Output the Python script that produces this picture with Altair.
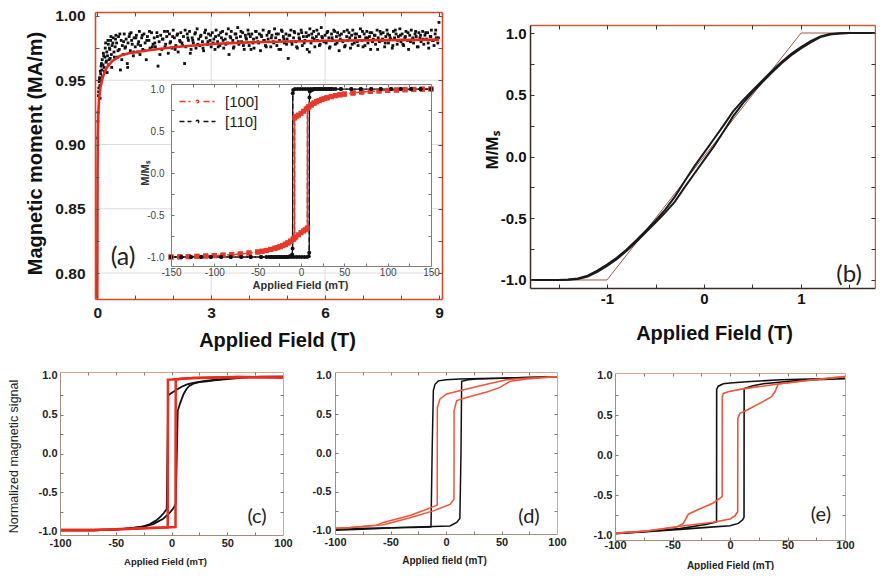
import altair as alt
import pandas as pd

# ---------------- data ----------------
# (a) measured magnetic moment (MA/m) vs applied field (T): scatter + fit
a_x = [0.01,0.02,0.03,0.04,0.05,0.06,0.07,0.08,0.09,0.10,0.12,0.13,0.15,0.16,0.18,0.20,0.21,0.23,0.25,0.27,
       0.29,0.31,0.33,0.35,0.37,0.39,0.42,0.44,0.47,0.49,
       0.51,0.53,0.56,0.58,0.61,0.63,0.66,0.68,0.71,0.73,0.76,0.79,0.81,0.84,0.87,0.89,0.92,0.95,0.97,1.00,
       1.03,1.06,1.09,1.11,1.14,1.17,1.20,1.23,1.26,1.29,1.32,1.36,1.39,1.43,1.47,
       1.50,1.53,1.57,1.60,1.63,1.67,1.70,1.73,1.77,1.80,1.83,1.87,1.90,1.93,1.97,2.00,2.03,2.07,2.10,2.13,
       2.17,2.20,2.23,2.27,2.30,2.33,2.37,2.40,2.43,2.47,2.50,2.53,2.57,2.60,2.63,2.67,2.70,2.73,2.77,2.80,
       2.83,2.87,2.90,2.93,2.97,
       3.00,3.03,3.07,3.10,3.13,3.17,3.20,3.23,3.27,3.30,3.33,3.37,3.40,3.43,3.47,3.50,3.53,3.57,3.60,3.63,
       3.67,3.70,3.73,3.77,3.80,3.83,3.87,3.90,3.93,3.97,4.00,4.03,4.07,4.10,4.13,4.17,4.20,4.23,4.27,4.30,
       4.33,4.37,4.40,4.43,4.47,
       4.50,4.53,4.57,4.60,4.63,4.67,4.70,4.73,4.77,4.80,4.83,4.87,4.90,4.93,4.97,5.00,5.03,5.07,5.10,5.13,
       5.17,5.20,5.23,5.27,5.30,5.33,5.37,5.40,5.43,5.47,5.50,5.53,5.57,5.60,5.63,5.67,5.70,5.73,5.77,5.80,
       5.83,5.87,5.90,5.93,5.97,
       6.00,6.03,6.07,6.10,6.13,6.17,6.20,6.23,6.27,6.30,6.33,6.37,6.40,6.43,6.47,6.50,6.53,6.57,6.60,6.63,
       6.67,6.70,6.73,6.77,6.80,6.83,6.87,6.90,6.93,6.97,7.00,7.03,7.07,7.10,7.13,7.17,7.20,7.23,7.27,7.30,
       7.33,7.37,7.40,7.43,7.47,
       7.50,7.53,7.57,7.60,7.63,7.67,7.70,7.73,7.77,7.80,7.83,7.87,7.90,7.93,7.97,8.00,8.03,8.07,8.10,8.13,
       8.17,8.20,8.23,8.27,8.30,8.33,8.37,8.40,8.43,8.47,8.50,8.53,8.57,8.60,8.63,8.67,8.70,8.73,8.77,8.80,
       8.83,8.87,8.90,8.93,8.97,9.00]
a_y = [0.905,0.925,0.938,0.944,0.949,0.952,0.946,0.957,0.955,0.961,0.958,0.966,0.962,0.971,0.960,0.968,0.975,0.964,0.972,0.969,
       0.978,0.966,0.974,0.981,0.970,0.977,0.983,0.972,0.976,0.985,
       0.979,0.968,0.984,0.974,0.958,0.981,0.977,0.970,0.986,0.975,0.982,0.963,0.979,0.984,0.973,0.987,0.978,0.969,0.983,0.976,
       0.985,0.972,0.980,0.988,0.977,0.983,0.974,0.986,0.979,0.966,0.984,0.981,0.975,0.987,0.978,
       0.983,0.976,0.987,0.961,0.980,0.985,0.974,0.982,0.988,0.978,0.984,0.971,0.986,0.980,0.975,0.989,0.983,0.977,0.985,0.972,
       0.981,0.987,0.979,0.984,0.963,0.976,0.986,0.981,0.988,0.974,0.983,0.979,0.986,0.975,0.990,0.982,0.977,0.985,0.980,0.973,
       0.987,0.983,0.978,0.986,0.981,
       0.976,0.987,0.982,0.974,0.989,0.980,0.985,0.977,0.983,0.988,0.975,0.982,0.986,0.979,0.970,0.984,0.988,0.981,0.976,0.986,
       0.983,0.991,0.978,0.984,0.980,0.987,0.974,0.985,0.982,0.989,0.977,0.984,0.986,0.979,0.975,0.988,0.983,0.980,0.986,0.973,
       0.984,0.989,0.981,0.977,0.985,
       0.982,0.988,0.976,0.985,0.980,0.990,0.983,0.977,0.986,0.981,0.974,0.988,0.984,0.979,0.986,0.982,0.967,0.985,0.989,0.978,
       0.983,0.987,0.980,0.975,0.986,0.982,0.989,0.977,0.984,0.981,0.987,0.974,0.985,0.990,0.979,0.983,0.988,0.976,0.984,0.981,
       0.986,0.978,0.991,0.983,0.980,
       0.985,0.979,0.988,0.983,0.976,0.986,0.981,0.989,0.978,0.984,0.987,0.973,0.982,0.986,0.980,0.988,0.977,0.984,0.981,0.987,
       0.975,0.985,0.989,0.979,0.983,0.986,0.977,0.984,0.990,0.981,0.976,0.986,0.983,0.988,0.979,0.984,0.974,0.987,0.982,0.985,
       0.978,0.989,0.983,0.980,0.986,
       0.981,0.987,0.976,0.984,0.989,0.979,0.985,0.982,0.975,0.988,0.983,0.986,0.978,0.984,0.990,0.980,0.986,0.977,0.983,0.988,
       0.981,0.974,0.985,0.989,0.982,0.979,0.986,0.984,0.976,0.987,0.983,0.980,0.988,0.978,0.985,0.982,0.987,0.975,0.984,0.989,
       0.981,0.977,0.986,0.983,0.979,0.995]
a_x2 = [0.015,0.035,0.055,0.075,0.11,0.14,0.17,0.19,0.22,0.24,0.26,0.28,0.30,0.32,0.34,0.36,0.38,0.41,0.45,0.48,
        0.545,0.595,0.645,0.695,0.745,0.80,0.855,0.905,0.96,1.015,1.075,1.125,1.185,1.245,1.305,1.375,1.45,1.515,1.585,1.65,
        1.715,1.785,1.85,1.915,1.985,2.05,2.115,2.185,2.25,2.315,2.385,2.45,2.515,2.585,2.65,2.715,2.785,2.85,2.915,2.985,
        3.05,3.115,3.185,3.25,3.315,3.385,3.45,3.515,3.585,3.65,3.715,3.785,3.85,3.915,3.985,4.05,4.115,4.185,4.25,4.315,
        4.385,4.45,4.515,4.585,4.65,4.715,4.785,4.85,4.915,4.985,5.05,5.115,5.185,5.25,5.315,5.385,5.45,5.515,5.585,5.65,
        5.715,5.785,5.85,5.915,5.985,6.05,6.115,6.185,6.25,6.315,6.385,6.45,6.515,6.585,6.65,6.715,6.785,6.85,6.915,6.985,
        7.05,7.115,7.185,7.25,7.315,7.385,7.45,7.515,7.585,7.65,7.715,7.785,7.85,7.915,7.985,8.05,8.115,8.185,8.25,8.315,
        8.385,8.45,8.515,8.585,8.65,8.715,8.785,8.85,8.915,8.985]
a_y2 = [0.918,0.941,0.950,0.936,0.963,0.953,0.969,0.957,0.979,0.965,0.956,0.981,0.962,0.975,0.967,0.984,0.960,0.979,0.968,0.982,
        0.973,0.986,0.966,0.980,0.976,0.960,0.986,0.981,0.972,0.983,0.978,0.970,0.985,0.973,0.981,0.988,0.976,0.979,0.984,0.970,
        0.982,0.976,0.988,0.979,0.984,0.974,0.986,0.980,0.977,0.989,0.983,0.971,0.981,0.987,0.978,0.984,0.975,0.989,0.980,0.985,
        0.979,0.984,0.976,0.987,0.981,0.978,0.990,0.983,0.975,0.986,0.980,0.988,0.977,0.983,0.986,0.974,0.982,0.988,0.979,0.985,
        0.981,0.976,0.987,0.983,0.979,0.986,0.974,0.989,0.982,0.978,0.985,0.980,0.988,0.976,0.983,0.987,0.979,0.984,0.972,0.986,
        0.982,0.989,0.977,0.984,0.980,0.987,0.975,0.983,0.988,0.979,0.985,0.981,0.976,0.989,0.983,0.978,0.986,0.980,0.984,0.988,
        0.977,0.983,0.987,0.980,0.985,0.974,0.988,0.982,0.979,0.986,0.983,0.977,0.989,0.981,0.985,0.978,0.984,0.987,0.980,0.983,
        0.988,0.976,0.985,0.982,0.987,0.979,0.984,0.981,0.989,0.983]
a_fit = [[0.0,0.7802],[0.004,0.84],[0.008,0.88],[0.014,0.905],[0.025,0.922],[0.045,0.935],[0.08,0.944],
         [0.15,0.953],[0.25,0.96],[0.4,0.965],[0.6,0.969],[0.8,0.9708],[1.0,0.9718],[1.4,0.9735],
         [2.0,0.9757],[3.0,0.9782],[4.0,0.9795],[5.0,0.9802],[6.0,0.9807],[7.5,0.9812],[9.0,0.9816]]
a_grid_x = [3, 6]
a_grid_y = [0.80, 0.85, 0.90, 0.95]

# inset of (a): M/Ms vs field (mT)
ins110_dn = [[150,1],[138,1],[127,1],[115,1],[104,1],[92,1],[81,1],[69,1],[58,1],[46,1],[40,1],[35,1],[32,1],
             [29,1],[26,1],[23,1],[20,1],[17,1],[14,1],[11,1],[8,1],[5,1],[2,1],[-1,1],[-4,1],[-7,1],[-9,0.99],
             [-9.5,0.95],[-9.7,-0.9],[-10.2,-0.97],[-13,-0.99],[-16,-1],[-19,-1],[-22,-1],[-25,-1],[-28,-1],
             [-31,-1],[-34,-1],[-37,-1],[-46,-1],[-58,-1],[-69,-1],[-81,-1],[-92,-1],[-104,-1],[-115,-1],
             [-127,-1],[-138,-1],[-150,-1]]
ins110_up = [[-150,-1],[-138,-1],[-127,-1],[-115,-1],[-104,-1],[-92,-1],[-81,-1],[-69,-1],[-58,-1],[-46,-1],
             [-40,-1],[-35,-1],[-32,-1],[-29,-1],[-26,-1],[-23,-1],[-20,-1],[-17,-1],[-14,-1],[-11,-1],[-8,-1],
             [-5,-1],[-2,-1],[1,-1],[4,-1],[7,-1],[9,-0.99],[9.5,-0.95],[9.7,0.9],[10.2,0.97],[13,0.99],[16,1],
             [19,1],[22,1],[25,1],[28,1],[31,1],[34,1],[37,1],[46,1],[58,1],[69,1],[81,1],[92,1],[104,1],
             [115,1],[127,1],[138,1],[150,1]]
ins100_dn = [[150,1.0],[140,0.998],[130,0.995],[120,0.992],[110,0.988],[100,0.983],[90,0.978],[80,0.972],
             [70,0.964],[60,0.953],[50,0.94],[45,0.932],[40,0.922],[35,0.91],[30,0.896],[27,0.887],[24,0.876],
             [21,0.863],[18,0.849],[15,0.832],[12,0.812],[9,0.788],[6,0.762],[3,0.736],[0,0.71],[-3,0.69],
             [-5,0.675],[-7.2,0.655],[-7.4,-0.772],[-9,-0.788],[-12,-0.812],[-15,-0.832],[-18,-0.849],
             [-21,-0.863],[-24,-0.876],[-27,-0.887],[-30,-0.896],[-35,-0.91],[-40,-0.922],[-45,-0.932],
             [-50,-0.94],[-60,-0.953],[-70,-0.964],[-80,-0.972],[-90,-0.978],[-100,-0.983],[-110,-0.988],
             [-120,-0.992],[-130,-0.995],[-140,-0.998],[-150,-1.0]]
ins100_up = [[-150,-1.0],[-140,-0.998],[-130,-0.995],[-120,-0.992],[-110,-0.988],[-100,-0.983],[-90,-0.978],
             [-80,-0.972],[-70,-0.964],[-60,-0.953],[-50,-0.94],[-45,-0.932],[-40,-0.922],[-35,-0.91],
             [-30,-0.896],[-27,-0.887],[-24,-0.876],[-21,-0.863],[-18,-0.849],[-15,-0.832],[-12,-0.812],
             [-9,-0.788],[-6,-0.762],[-3,-0.736],[0,-0.71],[3,-0.69],[5,-0.675],[7.2,-0.655],[7.4,0.772],
             [9,0.788],[12,0.812],[15,0.832],[18,0.849],[21,0.863],[24,0.876],[27,0.887],[30,0.896],[35,0.91],
             [40,0.922],[45,0.932],[50,0.94],[60,0.953],[70,0.964],[80,0.972],[90,0.978],[100,0.983],
             [110,0.988],[120,0.992],[130,0.995],[140,0.998],[150,1.0]]
ins_series = ["[100]", "[110]"]

# (b) M/Ms vs field (T)
b_x = [1.76,1.5,1.4,1.3,1.2,1.1,1.0,0.9,0.8,0.7,0.6,0.5,0.4,0.3,0.2,0.1,0.0,-0.1,-0.2,-0.3,-0.4,-0.5,
       -0.6,-0.7,-0.8,-0.9,-1.0,-1.1,-1.2,-1.3,-1.4,-1.5,-1.78]
b_dn = [1.0,1.0,0.999,0.992,0.973,0.935,0.886,0.831,0.766,0.692,0.613,0.535,0.455,0.365,0.25,0.14,0.03,
        -0.08,-0.20,-0.325,-0.43,-0.52,-0.60,-0.68,-0.755,-0.82,-0.875,-0.925,-0.965,-0.988,-0.997,-1.0,-1.0]
b_up = [1.0,1.0,0.997,0.988,0.967,0.925,0.875,0.82,0.755,0.68,0.60,0.52,0.43,0.325,0.20,0.08,-0.03,
        -0.14,-0.25,-0.365,-0.455,-0.535,-0.613,-0.692,-0.766,-0.831,-0.886,-0.935,-0.973,-0.992,-0.999,-1.0,-1.0]
b_ideal = [[-1.79,-1.0],[-1.0,-1.0],[1.0,1.0],[1.76,1.0]]

# (c)
c_red_dn = [[100,0.98],[80,0.983],[60,0.985],[40,0.98],[20,0.972],[10,0.965],[5,0.958],[0,0.952],[-3.2,0.95],
            [-3.4,-0.95],[-10,-0.955],[-20,-0.96],[-35,-0.968],[-50,-0.975],[-70,-0.985],[-100,-0.985]]
c_red_up = [[-100,-0.985],[-70,-0.985],[-50,-0.975],[-35,-0.968],[-20,-0.96],[-10,-0.955],[0,-0.95],[3.6,-0.948],
            [3.8,0.955],[10,0.962],[20,0.972],[40,0.98],[60,0.985],[80,0.983],[100,0.98]]
c_blk_dn = [[100,0.99],[80,0.99],[60,0.98],[40.5,0.95],[30,0.935],[19.6,0.91],[14,0.89],[9.1,0.86],[5,0.825],
            [1,0.79],[-2.9,0.75],[-4.3,-0.715],[-7,-0.77],[-10.3,-0.82],[-14,-0.865],[-19.3,-0.91],[-25,-0.94],
            [-34.3,-0.96],[-50,-0.98],[-70,-0.99],[-100,-0.99]]
c_blk_up = [[-100,-0.99],[-70,-0.99],[-50,-0.98],[-28,-0.95],[-16.3,-0.91],[-7.4,-0.84],[-1.3,-0.76],[2,-0.70],
            [3.8,-0.65],[5.6,0.55],[7.6,0.64],[9.1,0.70],[11,0.77],[13.6,0.835],[16,0.87],[19.6,0.90],[25,0.92],
            [31.6,0.93],[40,0.945],[50,0.96],[70,0.985],[100,0.99]]
# (d)
d_blk_dn = [[100,0.99],[70,0.98],[48.6,0.97],[30,0.965],[12.6,0.96],[0,0.95],[-6.9,0.935],[-9.9,0.89],
            [-11.4,0.81],[-12.5,0.0],[-13.5,-0.945],[-13.6,-0.96],[-30,-0.965],[-50,-0.97],[-71.4,-0.975],[-100,-0.99]]
d_blk_up = [[-100,-1.0],[-70,-0.985],[-41.4,-0.965],[-20,-0.955],[3.6,-0.945],[9.6,-0.90],[12.5,-0.85],
            [13.5,0.0],[14.1,0.93],[20,0.95],[27.6,0.96],[50,0.97],[75,0.98],[100,0.99]]
d_red_dn = [[100,0.99],[96.6,0.99],[72.7,0.97],[54.7,0.95],[36.7,0.89],[18.6,0.83],[0.6,0.765],[-5.4,0.70],
            [-7.8,0.59],[-7.9,-0.675],[-17.4,-0.73],[-32.4,-0.81],[-56.5,-0.90],[-62.5,-0.935],[-86.5,-0.965],[-100,-0.975]]
d_red_up = [[-100,-0.975],[-86.5,-0.97],[-56.5,-0.93],[-32.4,-0.84],[-11.4,-0.75],[3.6,-0.667],[7.2,-0.60],
            [7.3,0.55],[9.6,0.68],[18.6,0.72],[36.7,0.79],[48.6,0.85],[57.7,0.93],[72.7,0.96],[96.6,0.985],[100,0.99]]
# (e)
e_blk_dn = [[100,0.96],[70,0.95],[43.5,0.94],[14.5,0.915],[0,0.90],[-5.8,0.89],[-10.2,0.86],[-11.6,0.82],
            [-11.7,-0.835],[-20,-0.865],[-43.5,-0.92],[-72.5,-0.955],[-100,-0.98]]
e_blk_up = [[-100,-0.985],[-72.5,-0.96],[-43.5,-0.93],[-20,-0.905],[0,-0.885],[7.2,-0.855],[11,-0.81],
            [12.2,-0.78],[12.3,0.83],[20,0.865],[29,0.89],[58,0.93],[80,0.945],[100,0.955]]
e_red_dn = [[100,0.98],[72.5,0.94],[43.5,0.89],[20.3,0.845],[8.7,0.82],[-1.4,0.79],[-5.8,0.77],[-6.7,0.73],
            [-6.8,-0.52],[-14.5,-0.60],[-29,-0.69],[-36.2,-0.74],[-40.6,-0.855],[-46.4,-0.90],[-72.5,-0.95],[-100,-0.975]]
e_red_up = [[-100,-0.98],[-72.5,-0.95],[-43.5,-0.89],[-14.5,-0.84],[0,-0.80],[4.3,-0.76],[6.7,-0.71],
            [6.8,0.46],[8.7,0.52],[14.5,0.56],[29,0.67],[36.2,0.73],[39.1,0.79],[42,0.89],[49.3,0.90],
            [72.5,0.94],[100,0.98]]

# ---------------- layout (page pixel positions) ----------------
W, H = 868, 562


def P(v):
    return v - 8


PA = dict(xd=[-0.06, 9.08], yd=[0.7798, 1.0031], xr=(95, 442), yr=(299, 12))
PI = dict(xd=[-150, 150], yd=[-1.107, 1.06], xr=(171, 431), yr=(266, 84))
PB = dict(xd=[-1.794, 1.763], yd=[-1.065, 1.065], xr=(530, 875), yr=(288, 25))
PC = dict(xd=[-100, 100], yd=[-1.05, 1.05], xr=(60, 283), yr=(535, 372))
PD = dict(xd=[-100, 100], yd=[-1.05, 1.05], xr=(335, 557), yr=(534, 372))
PE = dict(xd=[-100, 100], yd=[-1.0625, 1.025], xr=(615, 845), yr=(540, 373))

FONT = "Liberation Sans"
RED = "#e5291d"
INS_RED = "#e8392b"


def scale(dom, rng):
    return alt.Scale(domain=list(dom), range=[P(rng[0]), P(rng[1])], nice=False, zero=False)


def enc(p, xa=None, ya=None):
    return dict(x=alt.X("x:Q", scale=scale(p["xd"], p["xr"]), axis=xa),
                y=alt.Y("y:Q", scale=scale(p["yd"], p["yr"]), axis=ya))


def pairs_df(pairs):
    return pd.DataFrame({"x": [q[0] for q in pairs], "y": [q[1] for q in pairs],
                         "i": list(range(len(pairs)))})


def curve(p, pairs, color, width, dash=None):
    kw = dict(color=color, strokeWidth=width)
    if dash:
        kw["strokeDash"] = dash
    return alt.Chart(pairs_df(pairs)).mark_line(**kw).encode(order="i:Q", **enc(p))


def tag(p, text, x, y, size):
    return alt.Chart(pd.DataFrame({"x": [x], "y": [y]})).mark_text(
        text=text, font="Lato", fontSize=size, color="#222", align="center", baseline="middle"
    ).encode(**enc(p))


def axes_layers(p, s):
    xl, xr = p["xr"]
    yb, yt = p["yr"]
    df = pd.DataFrame({"x": p["xd"], "y": p["yd"]})

    def lay(xa, ya):
        return alt.Chart(df).mark_point(opacity=0).encode(**enc(p, xa, ya))

    lab = dict(labelFont=FONT, labelFontSize=s["fs"], labelFontWeight=s["fw"], labelColor=s["lc"],
               labelOverlap=False, labelFlush=False, grid=False, zindex=1)
    xa = alt.Axis(orient="bottom", offset=P(yb) - H, values=s["xv"], format=s["xfmt"],
                  labelPadding=s["xpad"], labelBaseline="middle", ticks=False,
                  domain=True, domainColor=s["cb"], domainWidth=s["dw"],
                  title=s["xt"], titleFont=FONT, titleFontSize=s["xts"], titleFontWeight="bold",
                  titleColor=s["tc"], titleX=P(s["xtp"][0]), titleY=s["xtp"][1] - yb,
                  titleBaseline="middle", titleAlign="center", **lab)
    ya = alt.Axis(orient="left", offset=-P(xl), values=s["yv"], format=s["yfmt"],
                  labelPadding=s["ypad"], labelAlign="right", labelBaseline="middle", ticks=False,
                  domain=True, domainColor=s["cb"], domainWidth=s["dw"],
                  title=s["yt"], titleFont=s.get("ytfont", FONT), titleFontSize=s["yts"],
                  titleFontWeight=s.get("ytw", "bold"), titleColor=s["tc"], titleAngle=270,
                  titleX=s["ytp"][0] - xl, titleY=P(s["ytp"][1]),
                  titleBaseline="middle", titleAlign="center", **lab)
    plain = dict(labels=False, title=None, grid=False, zindex=1)
    xf = alt.Axis(orient="top", offset=-P(yt), ticks=False, domain=True,
                  domainColor=s["ct"], domainWidth=s["dw"], **plain)
    yf = alt.Axis(orient="right", offset=P(xr) - W, ticks=False, domain=True,
                  domainColor=s["ct"], domainWidth=s["dw"], **plain)
    tk = dict(ticks=True, domain=False, tickSize=s["ts"], tickColor=s["tcol"], tickWidth=1, **plain)
    x_in_b = alt.Axis(orient="top", offset=-P(yb), values=s["xtv"], **tk)
    y_in_l = alt.Axis(orient="right", offset=P(xl) - W, values=s["ytv"], **tk)
    x_in_t = alt.Axis(orient="bottom", offset=P(yt) - H, values=s["xtv"], **tk)
    y_in_r = alt.Axis(orient="left", offset=-P(xr), values=s["ytv"], **tk)
    return [lay(xa, ya), lay(xf, yf), lay(x_in_b, y_in_l), lay(x_in_t, y_in_r)]


# ---------------- panel (a) ----------------
n1 = min(len(a_x), len(a_y))
n2 = min(len(a_x2), len(a_y2))
a_df = pd.DataFrame({"x": a_x[:n1] + a_x2[:n2], "y": a_y[:n1] + a_y2[:n2]})
gx_df = pd.DataFrame({"x": a_grid_x, "y": [PA["yd"][0]] * len(a_grid_x), "y2": [PA["yd"][1]] * len(a_grid_x)})
gy_df = pd.DataFrame({"y": a_grid_y, "x": [PA["xd"][0]] * len(a_grid_y), "x2": [PA["xd"][1]] * len(a_grid_y)})
a_gx = alt.Chart(gx_df).mark_rule(color="#dcdcdc", strokeWidth=1).encode(y2="y2:Q", **enc(PA))
a_gy = alt.Chart(gy_df).mark_rule(color="#dcdcdc", strokeWidth=1).encode(x2="x2:Q", **enc(PA))
a_scatter = alt.Chart(a_df).mark_square(size=8, color="#111", opacity=1).encode(**enc(PA))
a_fitline = curve(PA, a_fit, RED, 2.6)
a_tag = tag(PA, "(a)", 0.68, 0.8123, 25)

SA = dict(fs=15.5, fw="bold", lc="#1a1a1a", xv=[0, 3, 6, 9], xfmt="d", xpad=13,
          yv=[0.80, 0.85, 0.90, 0.95, 1.00], yfmt=".2f", ypad=10, cb="#d9472b", ct="#d9472b", dw=1.6,
          xt="Applied Field (T)", xts=20, xtp=(277, 340), tc="#111",
          yt="Magnetic moment (MA/m)", yts=20, ytp=(35, 153),
          xtv=[0, 1, 2, 3, 4, 5, 6, 7, 8, 9], ytv=[0.8, 0.825, 0.85, 0.875, 0.9, 0.925, 0.95, 0.975, 1.0],
          ts=4, tcol="#555")

# ---------------- inset ----------------
inset_bg = alt.Chart(pd.DataFrame({"x": [PI["xd"][0]], "x2": [PI["xd"][1]],
                                   "y": [PI["yd"][0]], "y2": [PI["yd"][1]]})).mark_rect(
    color="white").encode(x2="x2:Q", y2="y2:Q", **enc(PI))

rows = []
jump_rows = []
for series, branch, pts in [("[100]", "dn", ins100_dn), ("[100]", "up", ins100_up),
                            ("[110]", "dn", ins110_dn), ("[110]", "up", ins110_up)]:
    for k, q in enumerate(pts):
        rows.append({"x": q[0], "y": q[1], "i": k, "series": series, "branch": series + branch})
    # the switching steps of each branch are drawn as solid segments
    for k in range(len(pts) - 1):
        if abs(pts[k + 1][1] - pts[k][1]) > 0.5:
            for j in (k, k + 1):
                jump_rows.append({"x": pts[j][0], "y": pts[j][1], "i": j, "series": series,
                                  "branch": series + branch})
ins_df = pd.DataFrame(rows)
jump_df = pd.DataFrame(jump_rows)

ins_color = alt.Scale(domain=ins_series, range=[INS_RED, "#111111"])
legend_path = ("M-3.6,0H-1.2M-0.25,0A0.25,0.25,0,1,1,0.25,0A0.25,0.25,0,1,1,-0.25,0M1.2,0H3.6")
ins_lines = alt.Chart(ins_df).mark_line(strokeWidth=1.3).encode(
    color=alt.Color("series:N", scale=ins_color,
                    legend=alt.Legend(orient="none", legendX=182, legendY=86, title=None,
                                      labelFont=FONT, labelFontSize=15, labelColor="#222",
                                      symbolType=legend_path, symbolSize=100, symbolStrokeWidth=1.5,
                                      labelOffset=20, rowPadding=4, padding=0, zindex=1)),
    strokeDash=alt.StrokeDash("series:N", scale=alt.Scale(domain=ins_series, range=[[6, 3, 2, 3], [5, 3]]),
                              legend=None),
    detail="branch:N", order="i:Q", **enc(PI))
ins_jumps = alt.Chart(jump_df).mark_line(strokeWidth=1.3).encode(
    color=alt.Color("series:N", scale=ins_color, legend=None),
    detail="branch:N", order="i:Q", **enc(PI))
ins_red_pts = alt.Chart(ins_df[ins_df["series"] == "[100]"]).mark_square(
    size=26, color=INS_RED, opacity=1).encode(**enc(PI))
ins_blk_pts = alt.Chart(ins_df[ins_df["series"] == "[110]"]).mark_circle(
    size=16, color="#111", opacity=1).encode(**enc(PI))

SI = dict(fs=10, fw="normal", lc="#444", xv=[-150, -100, -50, 0, 50, 100, 150], xfmt="d", xpad=6,
          yv=[-1, -0.5, 0, 0.5, 1], yfmt=".1f", ypad=7, cb="#857a76", ct="#857a76", dw=1,
          xt="Applied Field (mT)", xts=11, xtp=(300, 285), tc="#333",
          yt="M/Mₛ", yts=11, ytp=(145, 173),
          xtv=[-125, -100, -75, -50, -25, 0, 25, 50, 75, 100, 125],
          ytv=[-0.75, -0.5, -0.25, 0, 0.25, 0.5, 0.75], ts=3, tcol="#777")

# ---------------- panel (b) ----------------
b_ideal_line = curve(PB, b_ideal, "#9a5a48", 1)
b_dn_line = curve(PB, [[b_x[k], b_dn[k]] for k in range(min(len(b_x), len(b_dn)))], "#1a1a1a", 2.0)
b_up_line = curve(PB, [[b_x[k], b_up[k]] for k in range(min(len(b_x), len(b_up)))], "#1a1a1a", 2.0)
b_tag = tag(PB, "(b)", 1.495, -0.96, 24)
SB = dict(fs=15, fw="bold", lc="#111", xv=[-1, 0, 1], xfmt="d", xpad=10,
          yv=[-1, -0.5, 0, 0.5, 1], yfmt=".1f", ypad=4, cb="#3a2a24", ct="#c0603a", dw=1.5,
          xt="Applied Field (T)", xts=20, xtp=(714, 333), tc="#111",
          yt="M/Mₛ", yts=17, ytp=(492, 150),
          xtv=[-1.5, -1, -0.5, 0, 0.5, 1, 1.5], ytv=[-1, -0.75, -0.5, -0.25, 0, 0.25, 0.5, 0.75, 1],
          ts=4, tcol="#333")


# ---------------- panels (c), (d), (e) ----------------
def small_style(xt, xtp, xpad, ypad, yt=None, ytp=(0, 0)):
    return dict(fs=11, fw="bold", lc="#222", xv=[-100, -50, 0, 50, 100], xfmt="d", xpad=xpad,
                yv=[-1, -0.5, 0, 0.5, 1], yfmt=".1f", ypad=ypad, cb="#a88c80", ct="#d8a58e", dw=1,
                xt=xt, xts=10, xtp=xtp, tc="#222", yt=yt, yts=12.5, ytp=ytp, ytw="normal",
                xtv=[-75, -50, -25, 0, 25, 50, 75], ytv=[-0.75, -0.5, -0.25, 0, 0.25, 0.5, 0.75],
                ts=3, tcol="#8a7570")


SC = small_style("Applied Field (mT)", (165, 561), 8, 3, "Normalized magnetic signal", (13, 456))
SC["xts"] = 9.5
SD = small_style("Applied field (mT)", (444, 560), 8, 4)
SE = small_style("Applied Field (mT)", (730, 565), 5, 3)

c_layers = [curve(PC, c_blk_dn, "#111", 1.8), curve(PC, c_blk_up, "#111", 1.8),
            curve(PC, c_red_dn, "#ee2a1f", 2.5), curve(PC, c_red_up, "#ee2a1f", 2.5),
            tag(PC, "(c)", 76.7, -0.818, 20)]
d_layers = [curve(PD, d_blk_dn, "#111", 1.5), curve(PD, d_blk_up, "#111", 1.5),
            curve(PD, d_red_dn, "#ef5538", 1.5), curve(PD, d_red_up, "#ef5538", 1.5),
            tag(PD, "(d)", 74.8, -0.83, 20)]
e_layers = [curve(PE, e_blk_dn, "#111", 1.6), curve(PE, e_blk_up, "#111", 1.6),
            curve(PE, e_red_dn, "#ef5538", 1.6), curve(PE, e_red_up, "#ef5538", 1.6),
            tag(PE, "(e)", 79.1, -0.75, 20)]

layers = ([a_gx, a_gy, a_scatter, a_fitline, a_tag] + axes_layers(PA, SA)
          + [inset_bg, ins_lines, ins_jumps, ins_red_pts, ins_blk_pts] + axes_layers(PI, SI)
          + [b_ideal_line, b_dn_line, b_up_line, b_tag] + axes_layers(PB, SB)
          + c_layers + axes_layers(PC, SC)
          + d_layers + axes_layers(PD, SD)
          + e_layers + axes_layers(PE, SE))

chart = alt.layer(*layers).resolve_scale(x="independent", y="independent").properties(
    width=W, height=H, autosize=alt.AutoSizeParams(type="none"), padding=0
).configure(
    locale=alt.Locale(number=alt.NumberLocale(decimal=".", thousands=",", grouping=[3],
                                              currency=["$", ""], minus="-"))
).configure_view(stroke=None).configure_axis(grid=False)

chart.save("out.html", embed_options={"renderer": "svg", "actions": False})
